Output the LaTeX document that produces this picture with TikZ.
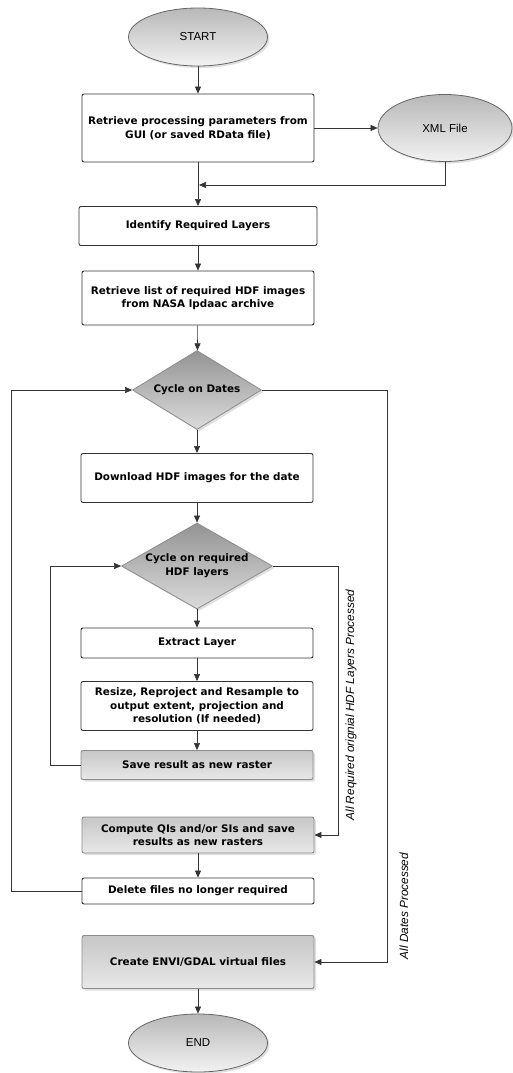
\documentclass[tikz,border=0pt]{standalone}
\usepackage{fontspec}
\setmainfont{Liberation Sans}
\newfontfamily\boxfont{DejaVu Sans}
\usepackage{tikz}
\usetikzlibrary{shapes.geometric}
\usetikzlibrary{shadows}
\usetikzlibrary{arrows.meta}

\tikzset{
  proc/.style={draw=black!80, line width=0.9pt, rounded corners=2pt, fill=white, minimum width=232pt, align=center, inner sep=2pt, font=\boxfont\bfseries\fontsize{10.4}{13.7}\selectfont},
  procgray/.style={proc, draw=black!45, top color=black!22, bottom color=black!9, drop shadow={opacity=0.25, shadow xshift=2pt, shadow yshift=-2pt}},
  term/.style={ellipse, draw=black!60, line width=0.8pt, top color=black!28, bottom color=black!5, minimum width=139pt, minimum height=58pt, inner sep=0pt, font=\fontsize{11.5}{13}\selectfont, drop shadow={opacity=0.25, shadow xshift=2pt, shadow yshift=-2pt}},
  decide/.style={diamond, draw=black!45, line width=0.8pt, top color=black!42, bottom color=black!14, inner sep=0pt, align=center, font=\boxfont\bfseries\fontsize{10.4}{13.7}\selectfont, drop shadow={opacity=0.25, shadow xshift=2pt, shadow yshift=-2pt}},
  flow/.style={draw=black!80, line width=0.6pt, -{Triangle[length=7pt,width=6pt]}},
  note/.style={rotate=90, font=\itshape\fontsize{11.8}{13}\selectfont}
}

\begin{document}
\begin{tikzpicture}[x=1pt, y=-1pt]
\useasboundingbox (0,0) rectangle (512,1073);
\node[term] (start) at (198,37) {START};
\node[proc, minimum height=68pt] (params) at (198,128) {Retrieve processing parameters from\\GUI (or saved RData file)};
\node[term, minimum width=134pt, minimum height=67pt] (xml) at (445,128) {XML File};
\coordinate (join) at (199,185);
\node[proc, minimum width=238pt, minimum height=39pt] (layerid) at (198,226) {Identify Required Layers};
\node[proc, minimum height=54pt] (hdflist) at (198,298) {Retrieve list of required HDF images\\from NASA lpdaac archive};
\node[decide, minimum width=129pt, minimum height=79pt, shape aspect=1.63] (dates) at (197,390) {Cycle on Dates};
\node[proc, minimum height=49pt] (download) at (197,478) {Download HDF images for the date};
\node[decide, minimum width=151pt, minimum height=86pt, shape aspect=1.75] (layers) at (197,566) {Cycle on required\\HDF layers};
\node[proc, minimum height=30pt] (extract) at (197,643) {Extract Layer};
\node[proc, minimum height=49pt] (resize) at (197,706) {Resize, Reproject and Resample to\\output extent, projection and\\resolution (If needed)};
\node[procgray, minimum height=29pt] (save) at (197,765) {Save result as new raster};
\node[procgray, minimum height=36pt] (compute) at (198,835) {Compute QIs and/or SIs and save\\results as new rasters};
\node[proc, minimum height=26pt] (delete) at (198,891) {Delete files no longer required};
\node[procgray, minimum height=53pt] (create) at (198,962) {Create ENVI/GDAL virtual files};
\node[term] (end) at (198,1043) {END};
\node[note] (donelayers) at (351,705) {All Required orignial HDF Layers Processed};
\node[note] (donedates) at (404,906) {All Dates Processed};

\draw[flow] (start) -- (params);
\draw[flow] (params) -- (xml);
\draw[flow] (xml.south) |- (join);
\draw[flow] (params) -- (layerid);
\draw[flow] (layerid) -- (hdflist);
\draw[flow] (hdflist) -- (dates);
\draw[flow] (dates) -- (download);
\draw[flow] (download) -- (layers);
\draw[flow] (layers) -- (extract);
\draw[flow] (extract) -- (resize);
\draw[flow] (resize) -- (save);
\draw[flow] (save.west) -- ++(-30,0) |- (layers.west);
\draw[flow] (layers.east) -- ++(65,0) |- (compute.east);
\draw[flow] (compute) -- (delete);
\draw[flow] (delete.west) -- ++(-70,0) |- (dates.west);
\draw[flow] (dates.east) -- ++(125,0) |- (create.east);
\draw[flow] (create) -- (end);
\end{tikzpicture}
\end{document}
